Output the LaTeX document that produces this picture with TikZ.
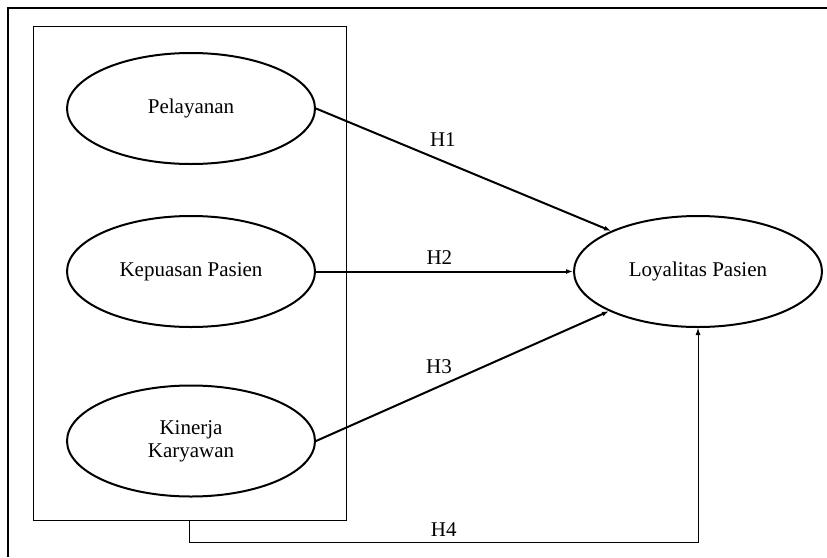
\documentclass[tikz,border=0pt]{standalone}
\usepackage{fontspec}
\setmainfont{Liberation Serif}
\usetikzlibrary{arrows.meta,positioning,shapes.geometric}

\begin{document}
\begin{tikzpicture}[
      x=1pt, y=-1pt,
      every node/.style={font=\fontsize{21}{25}\selectfont},
      varnode/.style={
        ellipse, draw, line width=2pt, inner sep=0pt,
        minimum width=248pt, minimum height=111pt,
        align=center
      },
      panel/.style={
        rectangle, draw, line width=0.9pt, inner sep=0pt,
        minimum width=313pt, minimum height=494pt
      },
      arr/.style={-{Latex[length=7pt,width=5pt]}, line width=2pt},
      thinarr/.style={-{Latex[length=7pt,width=5pt]}, line width=0.9pt},
      hyp/.style={above=6pt, inner sep=0pt}
    ]
    \useasboundingbox (0,0) rectangle (827,557);

    % ===== Frame: only top and left edges are shown =====
    \draw[line width=2pt] (8,557) -- (8,8) -- (827,8);

    % ===== Left: independent variables in their panel =====
    \node[panel] (box) at (189.5,273) {};
    \node[varnode] (pel) at (191,108.5) {Pelayanan};
    \node[varnode] (kep) at (191,271.5) {Kepuasan Pasien};
    \node[varnode] (kin) at (191,441) {Kinerja\\[-2pt] Karyawan};

    % ===== Right: dependent variable =====
    \node[varnode] (loy) at (698,271.5) {Loyalitas Pasien};

    % ===== Arrows: hypotheses =====
    \draw[arr] (pel.east) -- node[pos=0.43, hyp, above=14pt] {H1} (loy.155);
    \draw[arr] (kep.east) -- node[pos=0.48, hyp] {H2} (loy.west);
    \draw[arr] (kin.east) -- node[pos=0.42, hyp, above=12pt] {H3} (loy.204);
    \draw[thinarr] (box.south) -- ++(0,22) coordinate (turn)
      -- node[midway, hyp] {H4} (turn -| loy.south) -- (loy.south);
  \end{tikzpicture}
\end{document}
